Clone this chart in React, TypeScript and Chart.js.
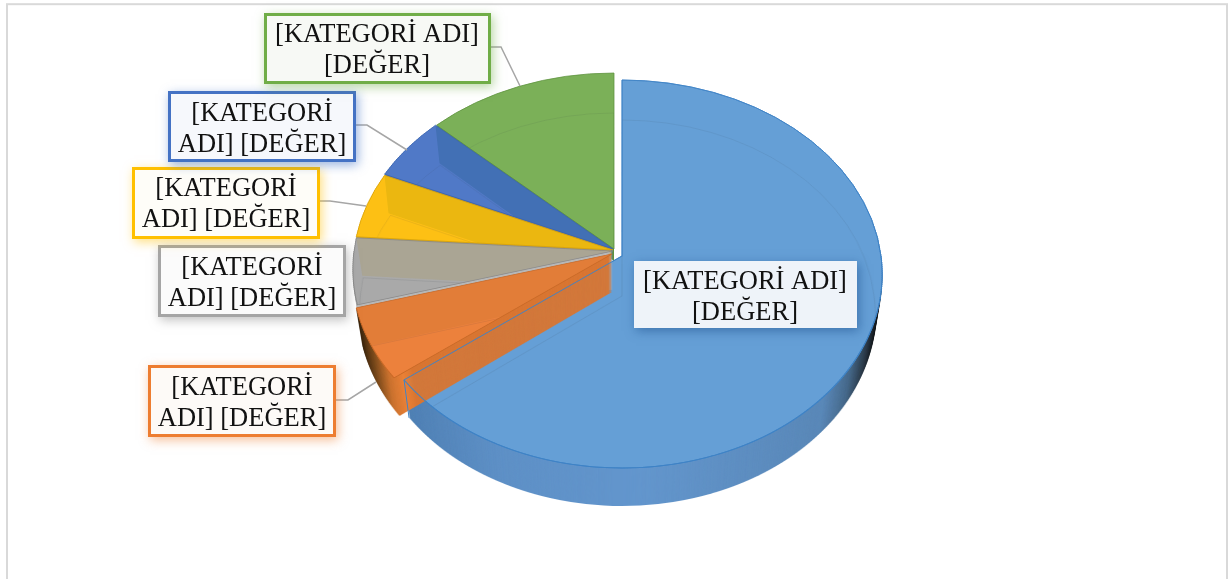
import React, { useEffect, useRef } from "react";
import { Chart, registerables } from "chart.js";

Chart.register(...registerables);

// ---- data ----
const categories = ["Kategori 1", "Kategori 2", "Kategori 3", "Kategori 4", "Kategori 5", "Kategori 6"];
const values = [64.6, 6.0, 5.5, 5.5, 5.4, 13.0];

const labelLines = [
  ["[KATEGORİ ADI]", "[DEĞER]"],
  ["[KATEGORİ", "ADI] [DEĞER]"],
  ["[KATEGORİ", "ADI] [DEĞER]"],
  ["[KATEGORİ", "ADI] [DEĞER]"],
  ["[KATEGORİ", "ADI] [DEĞER]"],
  ["[KATEGORİ ADI]", "[DEĞER]"],
];

// ---- styles and layout ----
const W = 1228;
const H = 579;
const RADIUS = 259;
const TILT = 0.7425;
const PERSPECTIVE = 0.0928;
const DEPTH = 38;
const SHRINK = 0.025;
const BAND = 2;

const apexes = [[622, 256], [612, 254], [613, 251], [613, 250], [613, 249], [614, 249]];
const wallDepths = [38, 38, 38, 12, 12, 12];
const topColors = ["#659fd6", "#ec813c", "#a9a9a9", "#fdc014", "#5079c7", "#7bb058"];
const bandColors = ["", "#e27d38", "#aaa594", "#ebb710", "#4270b5", ""];
const edgeColors = ["#3f83c6", "#c96a28", "#8a8a8a", "#d9a30c", "#3c66b0", "#5f9340"];
const wallColors = ["#5e90c6", "#e67e34", "#b8b8b8", "#e0ac10", "#4468ad", "#5f9340"];
const bandDx = [0, 14, 6, 4, 4, 0];

const boxes = [
  { x: 634, y: 261, w: 223, h: 67, cx: 745, y1: 282, y2: 313, border: "", fill: "#eef3f9", shadow: "rgba(30,80,140,0.55)" },
  { x: 148, y: 365, w: 188, h: 72, cx: 242, y1: 388, y2: 419, border: "#ed7d31", fill: "#fdfaf7", shadow: "rgba(237,125,49,0.5)" },
  { x: 158, y: 245, w: 188, h: 72, cx: 252, y1: 268, y2: 299, border: "#a5a5a5", fill: "#fbfbfb", shadow: "rgba(130,130,130,0.5)" },
  { x: 132, y: 167, w: 188, h: 72, cx: 226, y1: 189, y2: 220, border: "#ffc000", fill: "#fefdf8", shadow: "rgba(255,192,0,0.5)" },
  { x: 168, y: 91, w: 188, h: 71, cx: 262, y1: 114, y2: 145, border: "#4472c4", fill: "#f6f8fc", shadow: "rgba(68,114,196,0.55)" },
  { x: 264, y: 13, w: 227, h: 71, cx: 377, y1: 35, y2: 66, border: "#70ad47", fill: "#f7f9f5", shadow: "rgba(112,173,71,0.5)" },
];

const leaders = [
  [[336, 400], [348, 400], [376, 382]],
  [[320, 201], [330, 201], [366, 206]],
  [[356, 125], [367, 125], [407, 150]],
  [[491, 47], [501, 47], [520, 86]],
];

// ---- drawing helpers ----
function newLayer() {
  const canvas = document.createElement("canvas");
  canvas.width = W;
  canvas.height = H;
  return canvas;
}

function warp(c: any, arc: any, ax: number, ay: number, paint: () => void) {
  const rs = RADIUS * TILT;
  const top = Math.floor(ay - rs / (1 + PERSPECTIVE)) - BAND;
  const bottom = Math.ceil(ay + rs / (1 - PERSPECTIVE)) + BAND;
  for (let y = top; y < bottom; y += BAND) {
    const mid = y + BAND / 2;
    const rel = mid - ay;
    const v = rel / (rs + PERSPECTIVE * rel);
    const w = 1 - PERSPECTIVE * v;
    const sx = 1 / w;
    const sy = TILT / (w * w);
    c.save();
    c.beginPath();
    c.rect(0, y, W, BAND);
    c.clip();
    c.setTransform(sx, 0, 0, sy, ax - arc.x * sx, mid - (arc.y + RADIUS * v) * sy);
    paint();
    c.restore();
  }
}

function sliceLayer(arc: any, apex: number[], fill: string, border = "rgba(0,0,0,0)", borderWidth = 0) {
  const canvas = newLayer();
  const c = canvas.getContext("2d")!;
  const opts = Object.create(arc.options);
  opts.backgroundColor = fill;
  opts.borderColor = border;
  opts.borderWidth = borderWidth;
  opts.borderAlign = "center";
  const clone = Object.create(arc);
  clone.options = opts;
  warp(c, arc, apex[0], apex[1], () => clone.draw(c));
  return canvas;
}

function project(angle: number, apex: number[]) {
  const u = Math.cos(angle);
  const v = Math.sin(angle);
  const w = 1 - PERSPECTIVE * v;
  return { x: apex[0] + (RADIUS * u) / w, y: apex[1] + (RADIUS * TILT * v) / w };
}

function stamp(c: CanvasRenderingContext2D, layer: HTMLCanvasElement, ax: number, k: number) {
  const s = 1 - (SHRINK * k) / DEPTH;
  c.drawImage(layer, ax * (1 - s), k, W * s, H);
}

function paintWall(ctx: CanvasRenderingContext2D, layer: HTMLCanvasElement, ax: number, depth: number) {
  for (let k = depth; k >= 1; k--) stamp(ctx, layer, ax, k);
}

function gradientOver(layer: HTMLCanvasElement, x0: number, x1: number, stops: [number, string][]) {
  const c = layer.getContext("2d")!;
  const g = c.createLinearGradient(x0, 0, x1, 0);
  stops.forEach(([t, col]) => g.addColorStop(t, col));
  c.globalCompositeOperation = "source-atop";
  c.fillStyle = g;
  c.fillRect(0, 0, W, H);
}

function topLayer(arc: any, i: number) {
  const apex = apexes[i];
  const base = sliceLayer(arc, apex, topColors[i]);
  const c = base.getContext("2d")!;
  c.globalCompositeOperation = "source-atop";
  if (bandColors[i]) {
    const p = project(arc.endAngle, apex);
    c.fillStyle = bandColors[i];
    c.beginPath();
    c.moveTo(apex[0], apex[1]);
    c.lineTo(p.x, p.y);
    c.lineTo(p.x + bandDx[i], p.y + DEPTH);
    c.lineTo(apex[0], apex[1] + DEPTH);
    c.closePath();
    c.fill();
  }
  const faint = sliceLayer(arc, apex, "rgba(0,0,0,0)", "rgba(40,50,60,0.10)", 1);
  stamp(c, faint, apex[0], DEPTH + 2);
  c.globalCompositeOperation = "source-over";
  c.drawImage(sliceLayer(arc, apex, "rgba(0,0,0,0)", edgeColors[i], 1), 0, 0);
  return base;
}

const pie3d = {
  id: "pie3d",
  beforeDraw(chart: any) {
    const ctx = chart.ctx;
    ctx.save();
    ctx.strokeStyle = "#d9d9d9";
    ctx.lineWidth = 2;
    ctx.strokeRect(7, 4.2, 1220, 700);
    ctx.restore();
  },
  beforeDatasetsDraw(chart: any) {
    const ctx: CanvasRenderingContext2D = chart.ctx;
    const arcs = chart.getDatasetMeta(0).data;

    // main slice: wall, then top
    const blueWall = sliceLayer(arcs[0], apexes[0], wallColors[0]);
    gradientOver(blueWall, 400, 882, [
      [0, "#4f80b4"], [0.2, "#5e90c6"], [0.5, "#6396cd"], [0.88, "#5a88b8"],
      [0.934, "#46698a"], [0.97, "#2c3a48"], [1, "#0e0e0e"],
    ]);
    paintWall(ctx, blueWall, apexes[0][0], wallDepths[0]);
    ctx.drawImage(topLayer(arcs[0], 0), 0, 0);

    // walls of the other slices, back to front
    [5, 4, 3, 2, 1].forEach((i) => {
      const wall = sliceLayer(arcs[i], apexes[i], wallColors[i]);
      if (i === 1) {
        gradientOver(wall, 358, 430, [
          [0, "#3d2810"], [0.2, "#7a4a1c"], [0.42, "#c9722f"], [0.62, "#ea8137"], [0.75, "#d97632"], [1, "#d97632"],
        ]);
      }
      paintWall(ctx, wall, apexes[i][0], wallDepths[i]);
    });

    // the main slice tints what lies behind it
    ctx.save();
    ctx.globalAlpha = 0.05;
    ctx.drawImage(sliceLayer(arcs[0], apexes[0], topColors[0]), 0, 0);
    ctx.restore();
    ctx.drawImage(sliceLayer(arcs[0], apexes[0], "rgba(0,0,0,0)", edgeColors[0], 1), 0, 0);
    const corner = project(arcs[0].endAngle, apexes[0]);
    ctx.save();
    ctx.strokeStyle = edgeColors[0];
    ctx.beginPath();
    ctx.moveTo(corner.x, corner.y);
    ctx.lineTo(corner.x + 5, corner.y + DEPTH);
    ctx.stroke();
    ctx.restore();

    // tops of the other slices
    [5, 4, 3, 2, 1].forEach((i) => ctx.drawImage(topLayer(arcs[i], i), 0, 0));

    // leader lines
    ctx.save();
    ctx.strokeStyle = "#a6a6a6";
    ctx.lineWidth = 1.5;
    leaders.forEach((pts) => {
      ctx.beginPath();
      pts.forEach(([x, y], n) => (n ? ctx.lineTo(x, y) : ctx.moveTo(x, y)));
      ctx.stroke();
    });
    ctx.restore();

    // data labels
    boxes.forEach((b, i) => {
      ctx.save();
      ctx.shadowColor = b.shadow;
      ctx.shadowBlur = 10;
      ctx.shadowOffsetX = 2;
      ctx.shadowOffsetY = 3;
      ctx.fillStyle = b.fill;
      ctx.fillRect(b.x, b.y, b.w, b.h);
      ctx.restore();
      if (b.border) {
        ctx.save();
        ctx.strokeStyle = b.border;
        ctx.lineWidth = 3;
        ctx.strokeRect(b.x + 1.5, b.y + 1.5, b.w - 3, b.h - 3);
        ctx.restore();
      }
      ctx.save();
      ctx.fillStyle = "#111111";
      ctx.font = '26.5px "Liberation Serif"';
      ctx.textAlign = "center";
      ctx.textBaseline = "middle";
      ctx.fillText(labelLines[i][0], b.cx, b.y1);
      ctx.fillText(labelLines[i][1], b.cx, b.y2);
      ctx.restore();
    });
    return false;
  },
};

export default function App() {
  const ref = useRef<HTMLCanvasElement>(null);
  useEffect(() => {
    const chart = new Chart(ref.current!, {
      type: "pie",
      data: {
        labels: categories,
        datasets: [{ data: values, backgroundColor: topColors, borderWidth: 0 }],
      },
      options: {
        responsive: false,
        animation: false,
        radius: RADIUS,
        layout: { padding: 0 },
        plugins: { legend: { display: false }, tooltip: { enabled: false } },
      } as any,
      plugins: [pie3d as any],
    });
    return () => chart.destroy();
  }, []);
  return (
    <div style={{ position: "fixed", left: 0, top: 0, width: W, height: H, background: "#fff" }}>
      <canvas ref={ref} width={W} height={H} style={{ display: "block" }} />
    </div>
  );
}
